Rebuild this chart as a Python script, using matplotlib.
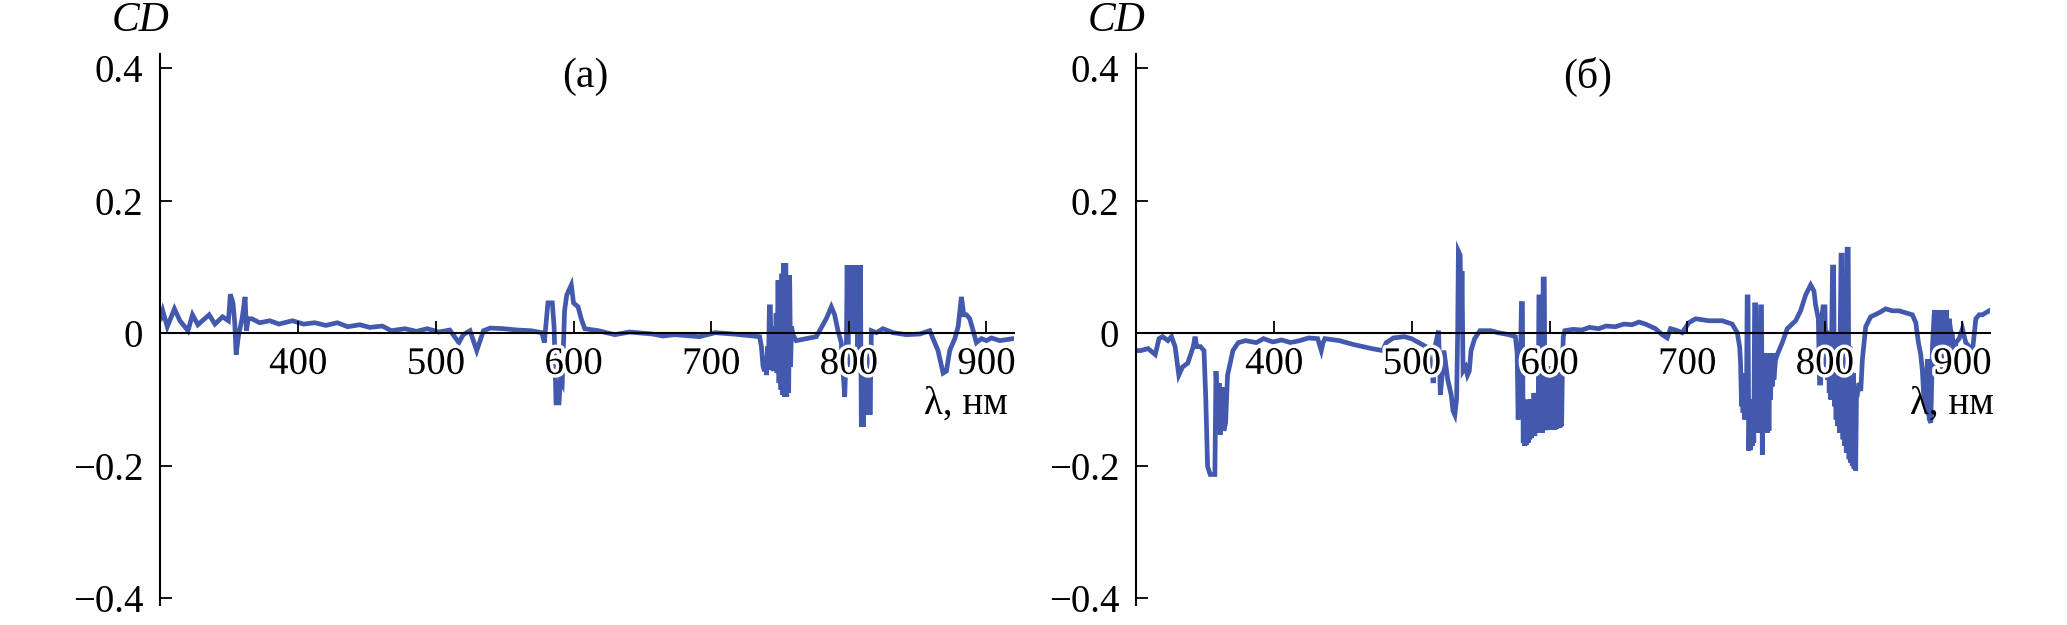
import matplotlib
matplotlib.use("Agg")
import matplotlib.pyplot as plt
import matplotlib.patheffects as pe

plt.rcParams["font.family"] = ["Liberation Serif", "DejaVu Serif"]

# (wavelength nm, CD), panel (a)
pts_a = [
    (300.0, 0.022), (301.6, 0.034), (304.9, 0.010), (310.1, 0.037), (314.1, 0.019),
    (319.9, 0.004), (323.2, 0.028), (327.1, 0.013), (335.3, 0.028), (339.5, 0.014),
    (345.1, 0.025), (349.3, 0.019), (350.7, 0.059), (352.6, 0.046), (353.9, 0.016),
    (354.9, -0.032), (356.5, -0.005), (359.2, 0.022), (361.4, 0.055), (362.4, 0.004),
    (363.7, 0.022), (366.3, 0.022), (372.0, 0.016), (379.4, 0.019), (386.0, 0.014),
    (395.8, 0.019), (404.0, 0.014), (412.1, 0.016), (420.0, 0.012), (428.4, 0.016),
    (436.0, 0.010), (444.8, 0.013), (452.0, 0.009), (461.1, 0.011), (467.6, 0.004),
    (477.5, 0.007), (486.0, 0.003), (493.8, 0.007), (502.0, 0.002), (510.1, 0.005),
    (516.7, -0.014), (519.9, -0.002), (524.8, 0.004), (529.7, -0.026), (534.6, 0.004),
    (539.5, 0.008), (549.3, 0.007), (559.2, 0.005), (569.0, 0.004), (577.1, 0.001),
    (578.8, -0.014), (581.4, 0.046), (584.6, 0.046), (585.9, 0.010), (587.3, -0.105),
    (589.5, -0.105), (590.5, -0.069), (591.8, -0.075), (593.5, 0.034), (595.1, 0.058),
    (598.4, 0.073), (600.0, 0.046), (603.3, 0.040), (605.6, 0.022), (608.2, 0.007),
    (618.0, 0.004), (630.0, -0.002), (640.8, 0.002), (657.2, -0.001), (665.0, -0.004),
    (673.5, -0.002), (691.5, -0.005), (703.0, 0.001), (715.8, -0.001), (735.2, -0.005),
    (736.5, -0.020), (737.7, -0.050), (738.8, -0.057), (739.5, -0.035), (740.2, -0.063),
    (740.9, -0.020), (741.6, -0.055), (742.3, 0.040), (743.0, 0.040), (743.7, -0.051),
    (744.4, -0.020), (745.1, -0.057), (745.8, 0.010), (746.5, -0.030), (747.2, 0.030),
    (747.9, -0.060), (748.6, 0.080), (749.3, -0.075), (750.0, 0.080), (750.7, -0.085),
    (751.4, 0.090), (752.1, -0.093), (752.8, 0.106), (753.5, -0.096), (754.2, 0.106),
    (754.9, -0.096), (755.6, 0.088), (756.3, -0.090), (757.0, 0.088), (757.7, -0.050),
    (758.4, 0.010), (759.4, -0.002), (761.8, -0.011), (769.1, -0.008), (776.4, -0.005),
    (778.8, 0.004), (783.6, 0.022), (787.3, 0.040), (789.7, 0.028), (792.1, 0.004),
    (794.5, -0.014), (797.0, -0.096), (798.2, -0.026), (798.8, 0.103), (799.4, -0.050),
    (800.0, 0.103), (800.6, 0.000), (801.2, 0.103), (801.8, 0.070), (802.5, 0.070),
    (803.2, 0.103), (803.8, 0.000), (804.4, 0.103), (805.0, 0.070), (805.9, 0.103),
    (806.5, -0.020), (807.2, 0.103), (807.8, -0.050), (808.4, 0.103), (809.1, -0.141),
    (809.8, -0.080), (810.4, -0.141), (811.0, -0.075), (811.6, -0.123), (812.3, -0.060),
    (812.9, -0.123), (813.5, -0.050), (814.1, -0.123), (814.8, -0.020), (815.4, -0.123),
    (816.4, 0.004), (820.0, 0.001), (824.8, 0.007), (832.1, 0.001), (841.8, -0.002),
    (851.5, -0.001), (858.8, 0.004), (861.2, -0.008), (864.8, -0.026), (868.5, -0.060),
    (870.9, -0.057), (873.3, -0.026), (877.0, -0.008), (879.4, 0.010), (881.8, 0.055),
    (883.5, 0.028), (885.5, 0.028), (887.9, 0.022), (890.3, 0.004), (892.7, -0.014),
    (896.4, -0.008), (900.0, -0.011), (903.6, -0.007), (909.7, -0.011), (919.4, -0.008),
]

# panel (б)
pts_b = [
    (300.0, -0.026), (303.1, -0.026), (308.4, -0.023), (313.6, -0.032), (316.3, -0.008),
    (318.9, -0.005), (322.8, -0.011), (325.4, -0.005), (328.0, -0.020), (330.7, -0.063),
    (333.3, -0.051), (337.2, -0.045), (341.2, -0.020), (342.5, -0.005), (343.8, -0.020),
    (346.4, -0.020), (349.0, -0.026), (350.3, -0.099), (351.6, -0.201), (353.5, -0.213),
    (356.9, -0.213), (357.7, -0.057), (358.7, -0.111), (360.0, -0.075), (360.8, -0.153),
    (362.1, -0.081), (363.4, -0.147), (364.7, -0.135), (366.1, -0.063), (367.4, -0.051),
    (370.0, -0.026), (373.9, -0.014), (379.2, -0.011), (387.0, -0.014), (392.3, -0.008),
    (399.0, -0.013), (405.4, -0.010), (412.0, -0.014), (418.5, -0.011), (425.0, -0.007),
    (431.6, -0.008), (434.2, -0.026), (435.5, -0.014), (436.8, -0.008), (447.3, -0.011),
    (457.8, -0.017), (470.9, -0.023), (478.8, -0.026), (481.4, -0.014), (486.6, -0.007),
    (494.5, -0.005), (499.7, -0.008), (505.0, -0.014), (510.2, -0.020), (514.2, -0.045),
    (515.5, -0.075), (516.8, -0.020), (519.4, 0.004), (520.7, -0.093), (522.0, -0.063),
    (523.3, -0.026), (526.0, -0.069), (528.6, -0.093), (529.9, -0.117), (531.2, -0.123),
    (532.5, -0.099), (533.3, 0.004), (533.8, 0.124), (535.1, 0.118), (535.9, 0.004),
    (536.4, 0.094), (537.2, -0.057), (539.1, -0.051), (540.4, -0.063), (541.7, -0.057),
    (543.0, -0.026), (545.6, -0.008), (549.5, 0.004), (557.4, 0.004), (562.6, 0.001),
    (570.5, -0.002), (575.2, -0.005), (576.5, -0.030), (577.2, -0.130), (577.8, -0.090),
    (578.4, -0.129), (579.0, -0.030), (579.6, 0.045), (580.3, 0.045), (580.9, -0.165),
    (581.5, -0.100), (582.1, -0.170), (582.7, -0.120), (583.3, -0.168), (583.9, -0.110),
    (584.5, -0.165), (585.1, -0.100), (585.7, -0.160), (586.3, -0.100), (586.9, -0.158),
    (587.5, -0.100), (588.1, -0.155), (588.7, -0.090), (589.3, -0.155), (589.9, -0.100),
    (590.5, -0.150), (591.1, -0.090), (591.7, -0.150), (592.3, 0.055), (593.0, 0.055),
    (593.6, -0.150), (594.2, -0.080), (594.8, -0.150), (595.4, 0.082), (596.2, 0.082),
    (596.8, -0.146), (597.4, -0.060), (598.0, -0.146), (598.6, -0.050), (599.2, -0.145),
    (599.8, -0.050), (600.4, -0.145), (601.0, -0.050), (601.6, -0.145), (602.2, -0.050),
    (602.8, -0.145), (603.4, -0.050), (604.0, -0.145), (604.6, -0.050), (605.2, -0.144),
    (605.8, -0.050), (606.4, -0.143), (607.0, -0.060), (607.6, -0.142), (608.2, -0.080),
    (608.8, -0.140), (609.4, -0.050), (610.0, -0.005), (611.1, 0.004), (617.0, 0.006),
    (623.6, 0.005), (629.0, 0.009), (635.8, 0.007), (641.0, 0.011), (647.9, 0.010),
    (654.0, 0.014), (660.0, 0.013), (665.0, 0.017), (669.7, 0.014), (677.0, 0.007),
    (681.8, -0.002), (685.5, -0.007), (687.9, 0.007), (691.5, 0.005), (696.4, 0.001),
    (701.2, 0.016), (706.1, 0.022), (715.8, 0.019), (725.5, 0.019), (732.7, 0.014),
    (736.4, 0.001), (738.1, -0.020), (738.8, -0.045), (739.5, -0.110), (740.0, -0.060),
    (740.6, -0.120), (741.2, -0.070), (741.8, -0.130), (742.4, -0.100), (743.0, -0.125),
    (743.6, 0.055), (744.2, 0.055), (744.8, -0.177), (745.4, -0.100), (746.0, -0.176),
    (746.6, -0.120), (747.2, -0.170), (747.8, -0.117), (748.4, -0.165), (749.0, 0.043),
    (749.7, 0.043), (750.3, -0.140), (750.9, -0.100), (751.5, -0.150), (752.1, -0.100),
    (752.7, -0.150), (753.3, 0.040), (754.0, 0.040), (754.6, -0.183), (755.2, -0.040),
    (755.8, -0.140), (756.4, -0.035), (757.0, -0.145), (757.6, -0.030), (758.2, -0.150),
    (758.8, -0.030), (759.4, -0.147), (760.0, -0.030), (760.6, -0.100), (761.2, -0.030),
    (761.8, -0.080), (762.4, -0.030), (763.0, -0.070), (764.2, -0.040), (765.5, -0.032),
    (766.7, -0.026), (769.1, -0.014), (772.7, 0.007), (778.8, 0.019), (782.4, 0.034),
    (786.1, 0.058), (789.7, 0.073), (792.1, 0.064), (793.3, 0.043), (795.3, 0.022),
    (796.2, -0.075), (797.0, -0.075), (797.7, 0.022), (798.7, 0.040), (800.1, 0.040),
    (800.8, -0.050), (801.4, 0.004), (802.0, -0.070), (802.6, 0.000), (803.2, -0.090),
    (803.8, 0.000), (804.4, -0.100), (805.0, 0.000), (805.6, 0.100), (806.4, 0.100),
    (807.0, -0.110), (807.6, 0.000), (808.2, -0.130), (808.8, 0.000), (809.4, -0.140),
    (810.0, 0.000), (810.6, -0.150), (811.2, 0.000), (811.8, 0.118), (812.6, 0.118),
    (813.2, -0.160), (813.8, 0.000), (814.4, -0.170), (815.0, 0.000), (815.6, -0.180),
    (816.2, 0.127), (817.0, 0.127), (817.6, -0.190), (818.2, -0.020), (818.8, -0.195),
    (819.4, -0.050), (820.0, -0.200), (820.6, -0.060), (821.2, -0.204), (821.8, -0.080),
    (822.4, -0.207), (823.0, -0.093), (823.6, -0.093), (824.8, -0.075), (826.1, -0.087),
    (827.3, -0.039), (829.7, 0.010), (833.3, 0.025), (839.4, 0.031), (844.2, 0.037),
    (849.1, 0.034), (853.9, 0.034), (858.8, 0.031), (863.6, 0.028), (866.1, 0.016),
    (868.0, -0.014), (869.7, -0.032), (870.9, -0.057), (872.1, -0.105), (873.3, -0.111),
    (874.5, -0.039), (875.8, -0.129), (877.0, -0.135), (878.2, -0.020), (879.4, 0.028),
    (880.0, 0.035), (880.6, -0.060), (881.2, 0.035), (881.8, -0.065), (882.4, 0.035),
    (883.0, -0.060), (883.6, 0.035), (884.2, -0.050), (884.8, 0.035), (885.4, -0.060),
    (886.0, 0.035), (886.6, -0.055), (887.2, 0.035), (887.8, -0.050), (888.4, 0.035),
    (889.1, -0.040), (890.3, 0.022), (891.5, 0.004), (892.7, -0.002), (893.9, -0.057),
    (895.2, -0.014), (897.6, -0.008), (900.0, 0.007), (902.4, -0.014), (904.8, -0.020),
    (907.3, -0.026), (909.7, 0.022), (912.1, 0.028), (914.5, 0.028), (919.4, 0.034),
    (921.8, 0.037),
]

x_ticks = [400, 500, 600, 700, 800, 900]
y_ticks = [-0.4, -0.2, 0, 0.2, 0.4]
y_labels = ["\u22120.4", "\u22120.2", "0", "0.2", "0.4"]

line_color = "#4259ad"

fig = plt.figure(figsize=(20.67, 6.25), dpi=100)
W, H = 2067, 625


def draw_panel(left_px, pts, tag, tag_x, unit_x):
    wl = [p[0] for p in pts]
    cd = [p[1] for p in pts]
    ax = fig.add_axes([left_px / W, 20 / H, 854 / W, 551 / H])
    ax.plot(wl, cd, color=line_color, lw=3.4, zorder=2, solid_joinstyle="miter")
    ax.set_xlim(299.6, 920)
    ax.set_ylim(-0.410, 0.4216)
    ax.set_axisbelow(False)
    for s in ["top", "right"]:
        ax.spines[s].set_visible(False)
    ax.spines["bottom"].set_position(("data", 0))
    for s in ["left", "bottom"]:
        ax.spines[s].set_linewidth(1.5)
        ax.spines[s].set_zorder(3)
    ax.set_xticks(x_ticks)
    ax.set_yticks(y_ticks)
    ax.set_yticklabels(y_labels)
    ax.tick_params(axis="x", direction="in", length=8.6, width=1.3, labelsize=28, pad=9)
    ax.tick_params(axis="y", direction="in", length=8.6, width=1.3, labelsize=28, pad=12)
    for lab in ax.get_xticklabels():
        lab.set_path_effects([pe.withStroke(linewidth=5, foreground="white")])
        lab.set_zorder(4)
    ax.text(0.011, 1.025, "CD", transform=ax.transAxes, ha="right", va="bottom",
            fontsize=30, style="italic")
    ax.text(tag_x, 0.387, tag, ha="center", va="center", fontsize=30)
    ax.text(unit_x, -0.107, "\u03bb, нм", ha="right", va="center", fontsize=28)
    return ax


draw_panel(160, pts_a, "(a)", 608.6, 915.8)
draw_panel(1136, pts_b, "(б)", 627.5, 923)

fig.savefig("out.png", dpi=100)
